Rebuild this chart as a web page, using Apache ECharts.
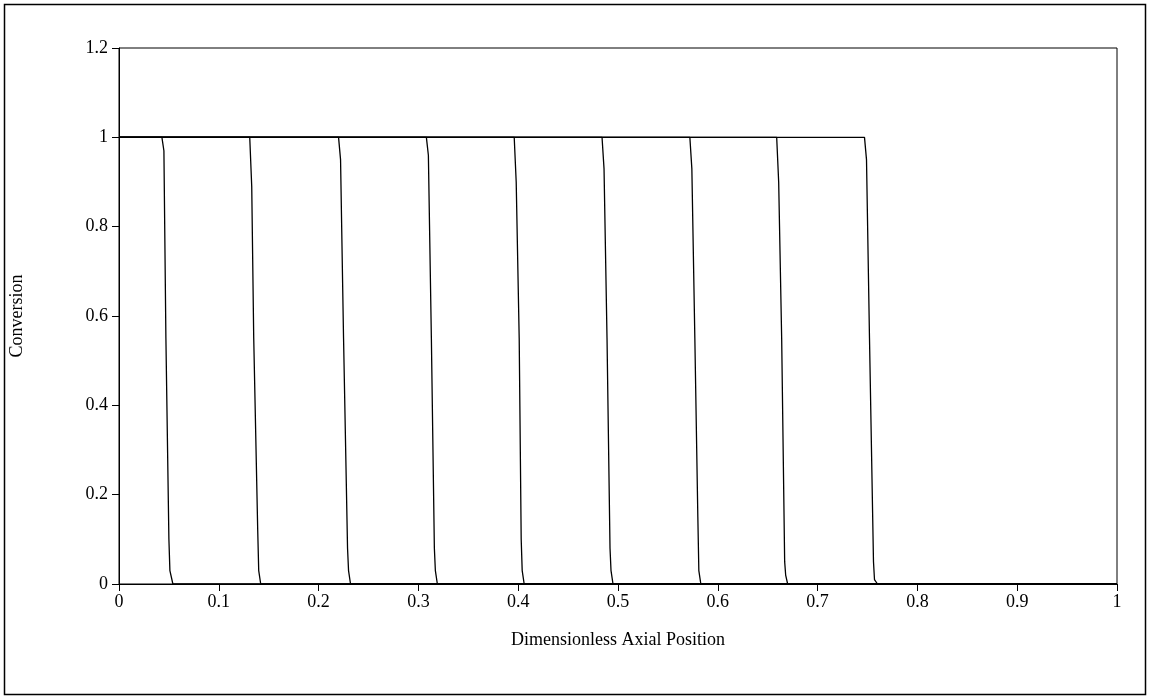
<!DOCTYPE html>
<html>
<head>
<meta charset="utf-8">
<script src="https://cdn.jsdelivr.net/npm/echarts@6/dist/echarts.min.js"></script>
<style>
  html, body { margin: 0; padding: 0; background: #fff; }
  #chart { width: 1151px; height: 700px; }
</style>
</head>
<body>
<div id="chart"></div>
<script>
// conversion fronts: [position, conversion]
var front1 = [[0, 1], [0.043, 1], [0.045, 0.97], [0.047, 0.55], [0.050, 0.10], [0.051, 0.03], [0.054, 0], [1, 0]];
var front2 = [[0, 1], [0.131, 1], [0.133, 0.89], [0.135, 0.55], [0.139, 0.12], [0.140, 0.03], [0.142, 0], [1, 0]];
var front3 = [[0, 1], [0.220, 1], [0.222, 0.95], [0.225, 0.55], [0.229, 0.08], [0.230, 0.03], [0.232, 0], [1, 0]];
var front4 = [[0, 1], [0.308, 1], [0.310, 0.96], [0.313, 0.55], [0.316, 0.08], [0.317, 0.03], [0.319, 0], [1, 0]];
var front5 = [[0, 1], [0.396, 1], [0.398, 0.90], [0.401, 0.55], [0.403, 0.10], [0.404, 0.03], [0.406, 0], [1, 0]];
var front6 = [[0, 1], [0.484, 1], [0.486, 0.93], [0.489, 0.55], [0.492, 0.08], [0.493, 0.03], [0.495, 0], [1, 0]];
var front7 = [[0, 1], [0.572, 1], [0.574, 0.93], [0.577, 0.55], [0.580, 0.15], [0.581, 0.03], [0.583, 0], [1, 0]];
var front8 = [[0, 1], [0.659, 1], [0.661, 0.90], [0.664, 0.55], [0.667, 0.05], [0.668, 0.02], [0.670, 0], [1, 0]];
var front9 = [[0, 1], [0.747, 1], [0.749, 0.95], [0.752, 0.55], [0.756, 0.05], [0.757, 0.01], [0.760, 0], [1, 0]];
var fronts = [front1, front2, front3, front4, front5, front6, front7, front8, front9];

var xName = 'Dimensionless Axial Position';
var yName = 'Conversion';

(function () {
    var chart = echarts.init(document.getElementById('chart'));
    var font = 'Liberation Serif';

    var series = fronts.map(function (d, i) {
        return {
            name: 'front' + (i + 1),
            type: 'line',
            data: d,
            showSymbol: false,
            smooth: false,
            lineStyle: { color: '#000', width: 1.3 },
            animation: false
        };
    });

    var option = {
        backgroundColor: '#fff',
        animation: false,
        grid: {
            left: 117,
            right: 34,
            top: 48,
            bottom: 116,
            show: true,
            borderColor: '#000',
            borderWidth: 1
        },
        graphic: [{
            type: 'rect',
            shape: { x: 4.5, y: 4.5, width: 1141, height: 690 },
            style: { fill: 'none', stroke: '#000', lineWidth: 1.5 }
        }],
        xAxis: {
            type: 'value',
            min: 0,
            max: 1,
            interval: 0.1,
            name: xName,
            nameLocation: 'middle',
            nameGap: 47,
            nameTextStyle: { fontFamily: font, fontSize: 18, color: '#000' },
            axisLine: { lineStyle: { color: '#000', width: 1 } },
            axisTick: { inside: false, length: 7, lineStyle: { color: '#000' } },
            axisLabel: { fontFamily: font, fontSize: 18, color: '#000', margin: 9 },
            splitLine: { show: false }
        },
        yAxis: {
            type: 'value',
            min: 0,
            max: 1.2,
            interval: 0.2,
            name: yName,
            nameLocation: 'middle',
            nameGap: 93,
            nameTextStyle: { fontFamily: font, fontSize: 18, color: '#000' },
            axisLine: { show: true, lineStyle: { color: '#000', width: 1 } },
            axisTick: { show: true, inside: false, length: 7, lineStyle: { color: '#000' } },
            axisLabel: { fontFamily: font, fontSize: 18, color: '#000', margin: 11 },
            splitLine: { show: false }
        },
        series: series
    };

    chart.setOption(option);
})();
</script>
</body>
</html>
